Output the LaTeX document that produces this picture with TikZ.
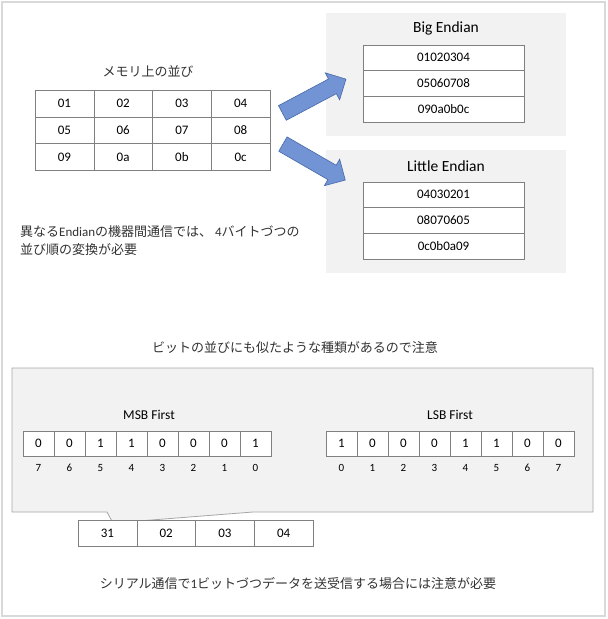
\documentclass[tikz,border=0pt]{standalone}
\usepackage{fontspec}
\setmainfont{Carlito}
\newfontfamily\jpfont{Noto Sans CJK JP}
\usepackage{tikz}
\usetikzlibrary{shapes.arrows,positioning}
\definecolor{framegray}{RGB}{217,217,217}
\definecolor{panelgray}{RGB}{242,242,242}
\definecolor{linegray}{RGB}{128,128,128}
\definecolor{boxgray}{RGB}{166,166,166}
\definecolor{arrowblue}{RGB}{114,147,212}
\definecolor{arrowedge}{RGB}{70,104,168}
\definecolor{textgray}{RGB}{50,50,50}

\begin{document}
\begin{tikzpicture}[
  x=1pt,y=-1pt,
  cell/.style={rectangle,draw=linegray,fill=white,minimum width=58.75pt,minimum height=26.7pt,
               inner sep=0pt,font=\fontsize{13}{15}\selectfont},
  wordcell/.style={rectangle,draw=linegray,fill=white,minimum width=161pt,minimum height=25.67pt,
                   inner sep=0pt,font=\fontsize{13}{15}\selectfont},
  bitcell/.style={rectangle,draw=linegray,fill=white,minimum width=31pt,minimum height=25pt,
                  inner sep=0pt,font=\fontsize{13}{15}\selectfont},
  idx/.style={font=\fontsize{11}{13}\selectfont,inner sep=0pt},
  panel/.style={fill=panelgray,draw=none},
  ptitle/.style={font=\fontsize{15.5}{18}\selectfont,inner sep=0pt},
  btitle/.style={font=\fontsize{13.5}{16}\selectfont,inner sep=0pt},
  jp/.style={font=\jpfont\fontsize{13}{18}\selectfont,text=textgray,inner sep=0pt},
  blockarrow/.style={single arrow,fill=arrowblue,draw=arrowedge,line width=0.6pt,
                     inner sep=8pt,single arrow head extend=7pt,minimum height=72pt},
]
\useasboundingbox (0,0) rectangle (608,619);
\draw[framegray,line width=1.5pt] (2,2) rectangle (605,616);

% memory layout
\node[jp] (memtitle) at (148,71) {メモリ上の並び};
\foreach \v [count=\i from 0] in {01,02,03,04,05,06,07,08,09,0a,0b,0c}{
  \pgfmathtruncatemacro\c{mod(\i,4)}
  \pgfmathtruncatemacro\r{div(\i,4)}
  \node[cell] (mem\i) at ({64.4+58.75*\c},{103.5+26.7*\r}) {\v};
}
\node[jp,anchor=west,align=left] (note) at (20,241)
  {異なる{\rmfamily Endian}の機器間通信では、 {\rmfamily 4}バイトづつの\\並び順の変換が必要};

% big / little endian
\fill[panel] (326,13) rectangle (566,136);
\fill[panel] (326,150) rectangle (566,273);
\node[ptitle] (bigtitle) at (446,28) {Big Endian};
\node[ptitle] (littletitle) at (446,166) {Little Endian};
\foreach \w [count=\i from 0] in {01020304,05060708,090a0b0c}
  \node[wordcell] (big\i) at (443.5,{57.8+25.67*\i}) {\w};
\foreach \w [count=\i from 0] in {04030201,08070605,0c0b0a09}
  \node[wordcell] (little\i) at (443.5,{194.8+25.67*\i}) {\w};

\node[blockarrow,rotate=28] (tobig) at (310.5,98) {};
\node[blockarrow,rotate=-30] (tolittle) at (310.5,160) {};

% bit order
\node[jp] (bittitle) at (295,348) {ビットの並びにも似たような種類があるので注意};
\filldraw[fill=panelgray,draw=boxgray,line width=0.8pt]
  (12,368) -- (593,368) -- (593,512) -- (253,512) -- (113,523) -- (107,512) -- (12,512) -- cycle;
\node[btitle] (msbtitle) at (149,415) {MSB First};
\node[btitle] (lsbtitle) at (450,415) {LSB First};
\foreach \b [count=\i from 0] in {0,0,1,1,0,0,0,1}{
  \pgfmathtruncatemacro\n{7-\i}
  \node[bitcell] (msb\i) at ({38.5+31*\i},443.5) {\b};
  \node[idx] (msbidx\i) at ({38.5+31*\i},468) {\n};
}
\foreach \b [count=\i from 0] in {1,0,0,0,1,1,0,0}{
  \node[bitcell] (lsb\i) at ({341.5+31*\i},443.5) {\b};
  \node[idx] (lsbidx\i) at ({341.5+31*\i},468) {\i};
}

% serial bytes
\foreach \v [count=\i from 0] in {31,02,03,04}
  \node[cell,minimum height=26pt] (ser\i) at ({107.4+58.75*\i},533) {\v};
\node[jp] (serialnote) at (298,583) {シリアル通信で{\rmfamily 1}ビットづつデータを送受信する場合には注意が必要};
\end{tikzpicture}
\end{document}
